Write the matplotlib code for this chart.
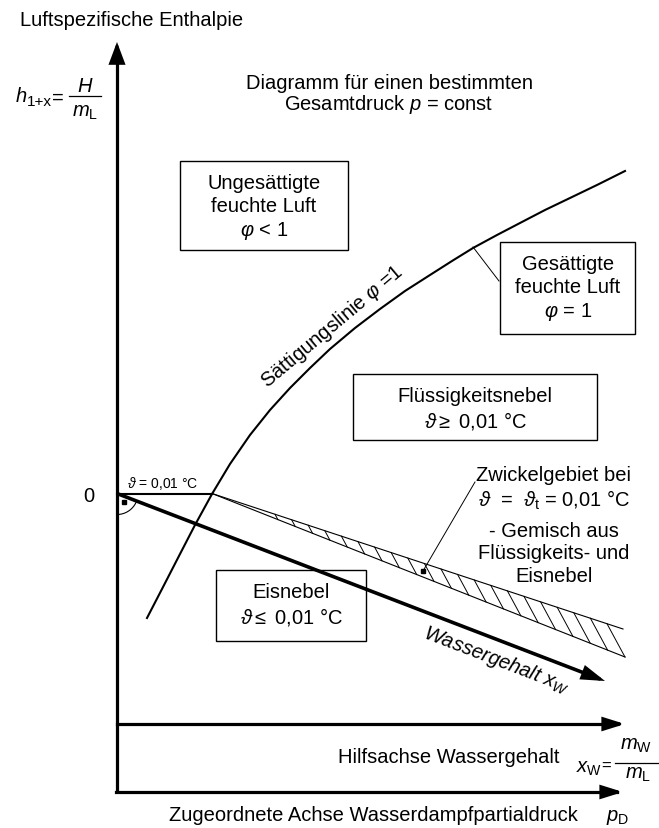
import numpy as np
import matplotlib
matplotlib.use("Agg")
import matplotlib.pyplot as plt
from matplotlib.patches import Rectangle

plt.rcParams['font.family'] = ['Liberation Sans', 'DejaVu Sans']
plt.rcParams['mathtext.fontset'] = 'custom'
plt.rcParams['mathtext.rm'] = 'Liberation Sans'
plt.rcParams['mathtext.it'] = 'Liberation Sans:italic'
plt.rcParams['mathtext.bf'] = 'Liberation Sans:bold'
plt.rcParams['mathtext.fallback'] = 'cm'

# ---------------- data (pixel-like units) ----------------
# saturation line phi = 1
sat_x = [147, 162, 180, 195, 212, 230, 250, 270, 290, 310, 330, 355, 380, 405, 430, 452, 473, 497, 520, 545, 570, 598, 625]
sat_y = [619, 590, 555, 526, 495, 465, 436, 411, 389, 369, 350, 329, 310, 292, 276, 262, 249, 236, 224, 211, 199, 185.5, 172]

# origin and isotherm theta = 0.01 C
origin = (117, 494.5)
iso_end_x = 212
# water content axis x_W (thick arrow)
xw_tip = (605, 682)
# wedge region (Zwickelgebiet): upper and lower boundary end points
wedge_upper_end = (623, 630)
wedge_lower_end = (625, 658)
n_hatch = 21

# axes
vaxis_top = 43
axis_bottom = 793
hilfs_y = 725
axis_tip_x = 625

# label texts
title_lines = ["Diagramm für einen bestimmten", r"Gesamtdruck $p$ = const"]
box_unsat = ["Ungesättigte", "feuchte Luft", r"$\varphi$ < 1"]
box_sat = ["Gesättigte", "feuchte Luft", r"$\varphi$ = 1"]
box_fluid = ["Flüssigkeitsnebel", r"$\vartheta$$\geq$ 0,01 °C"]
box_ice = ["Eisnebel", r"$\vartheta$$\leq$ 0,01 °C"]
wedge_lines = ["Zwickelgebiet bei", r"$\vartheta$  =  $\vartheta_{\mathrm{t}}$ = 0,01 °C",
               "- Gemisch aus", "Flüssigkeits- und", "Eisnebel"]

FS = 14.5

fig = plt.figure(figsize=(6.59, 8.29), dpi=100)
ax = fig.add_axes([0, 0, 1, 1])
ax.set_xlim(0, 659)
ax.set_ylim(829, 0)
ax.axis('off')

def arrow(tail, tip, lw, hl=0.75, hw=0.28, ms=15):
    ax.annotate("", xy=tip, xytext=tail,
                arrowprops=dict(arrowstyle=f"-|>,head_length={hl},head_width={hw}",
                                lw=lw, color='k', shrinkA=0, shrinkB=0,
                                mutation_scale=ms, joinstyle='miter'))

# axes
ax.plot([origin[0], origin[0]], [axis_bottom, vaxis_top + 10], color='k', lw=2.3, solid_capstyle='butt')
arrow((origin[0], vaxis_top + 20), (origin[0], vaxis_top), 2.3, hl=0.8, hw=0.3)
ax.plot([origin[0] - 1, axis_tip_x - 8], [axis_bottom, axis_bottom], color='k', lw=2.3)
arrow((axis_tip_x - 20, axis_bottom), (axis_tip_x - 2, axis_bottom), 2.3, hl=0.8, hw=0.25)
ax.plot([origin[0], axis_tip_x - 8], [hilfs_y, hilfs_y], color='k', lw=2.3)
arrow((axis_tip_x - 20, hilfs_y), (axis_tip_x, hilfs_y), 2.3, hl=0.8, hw=0.25)

# saturation line
ax.plot(sat_x, sat_y, color='k', lw=1.5, solid_joinstyle='round')

# isotherm 0.01 C (horizontal part)
ax.plot([origin[0], iso_end_x], [origin[1], origin[1]], color='k', lw=1.5)

# water content arrow
ax.plot([origin[0], xw_tip[0] - 8], [origin[1], xw_tip[1] - 8 * (xw_tip[1] - origin[1]) / (xw_tip[0] - origin[0])],
        color='k', lw=2.6, solid_capstyle='butt')
d = np.array(xw_tip) - np.array(origin)
d = d / np.hypot(*d)
arrow(tuple(np.array(xw_tip) - 20 * d), xw_tip, 2.6, hl=0.8, hw=0.25)

# wedge region
p0 = np.array([iso_end_x, origin[1]])
ax.plot([p0[0], wedge_upper_end[0]], [p0[1], wedge_upper_end[1]], color='k', lw=0.8)
ax.plot([p0[0], wedge_lower_end[0]], [p0[1], wedge_lower_end[1]], color='k', lw=0.8)
su = (wedge_upper_end[1] - p0[1]) / (wedge_upper_end[0] - p0[0])
sl = (wedge_lower_end[1] - p0[1]) / (wedge_lower_end[0] - p0[0])
k = 1.85
for x0 in np.linspace(275, 607, n_hatch):
    yu0 = p0[1] + su * (x0 - p0[0])
    x1 = (p0[1] - sl * p0[0] - yu0 + k * x0) / (k - sl)
    y1 = yu0 + k * (x1 - x0)
    ax.plot([x0, x1], [yu0, y1], color='k', lw=0.7)

# right-angle marker
a = np.radians(np.linspace(np.degrees(np.arctan2(d[1], d[0])), 90, 30))
ax.plot(origin[0] + 21 * np.cos(a), origin[1] + 21 * np.sin(a), color='k', lw=0.8)
ax.plot([124], [503], marker='s', ms=2.2, color='k')

# boxes
def box(x0, y0, x1, y1):
    ax.add_patch(Rectangle((x0, y0), x1 - x0, y1 - y0, fill=False, ec='k', lw=1.0))

box(180, 162, 348, 251)
box(500, 243, 635, 335)
box(353, 375, 597, 441)
box(216, 571, 366, 642)

def lines(xc, baselines, texts, fs=FS):
    for yb, t in zip(baselines, texts):
        ax.text(xc, yb, t, ha='center', va='baseline', fontsize=fs)

lines(264, [189, 212, 236], box_unsat)
lines(568, [270, 293, 317], box_sat)
lines(475, [402, 427], box_fluid)
lines(291, [598, 623], box_ice)
lines(389, [88.5, 110], title_lines)
lines(554, [481, 507, 537, 559, 582], wedge_lines)

# leaders
ax.plot([473, 499], [248, 282], color='k', lw=0.7)
ax.plot([475, 423], [483, 572], color='k', lw=0.7)
ax.plot([423], [572], marker='s', ms=2.5, color='k')

# axis labels
ax.text(20, 25.7, "Luftspezifische Enthalpie", ha='left', va='baseline', fontsize=FS)

# h_{1+x} = H / m_L  (built as a stacked fraction)
ax.text(15, 101.7, r"$h$", ha='left', va='baseline', fontsize=FS)
ax.text(27, 106, "1+x", ha='left', va='baseline', fontsize=11)
ax.text(52, 103.5, "=", ha='left', va='baseline', fontsize=FS)
ax.plot([69, 101], [97.3, 97.3], color='k', lw=0.9)
ax.text(85, 92, r"$H$", ha='center', va='baseline', fontsize=FS)
ax.text(85, 117, r"$m_{\mathrm{L}}$", ha='center', va='baseline', fontsize=FS)

ax.text(89, 497, "0", ha='center', va='center', fontsize=FS)
ax.text(127, 487.7, r"$\vartheta$ = 0,01 °C", ha='left', va='baseline', fontsize=10)

ax.text(560, 762.7, "Hilfsachse Wassergehalt", ha='right', va='baseline', fontsize=FS)
# x_W = m_W / m_L
ax.text(576, 773, r"$x_{\mathrm{W}}$", ha='left', va='baseline', fontsize=FS)
ax.text(601, 771, "=", ha='left', va='baseline', fontsize=12)
ax.plot([615, 658], [764, 764], color='k', lw=0.9)
ax.text(636.5, 750, r"$m_{\mathrm{W}}$", ha='center', va='baseline', fontsize=FS)
ax.text(638, 779, r"$m_{\mathrm{L}}$", ha='center', va='baseline', fontsize=FS)

ax.text(578, 820.7, "Zugeordnete Achse Wasserdampfpartialdruck", ha='right', va='baseline', fontsize=FS)
ax.text(606, 821, r"$p_{\mathrm{D}}$", ha='left', va='baseline', fontsize=FS)

# rotated labels
ax.text(332, 327, r"Sättigungslinie $\varphi$ =1", ha='center', va='center', rotation=40,
        rotation_mode='anchor', fontsize=FS)
ax.text(497, 660, r"Wassergehalt $x_W$", ha='center', va='center', rotation=-21,
        rotation_mode='anchor', fontsize=FS, style='italic')

fig.savefig("out.png", dpi=100)
